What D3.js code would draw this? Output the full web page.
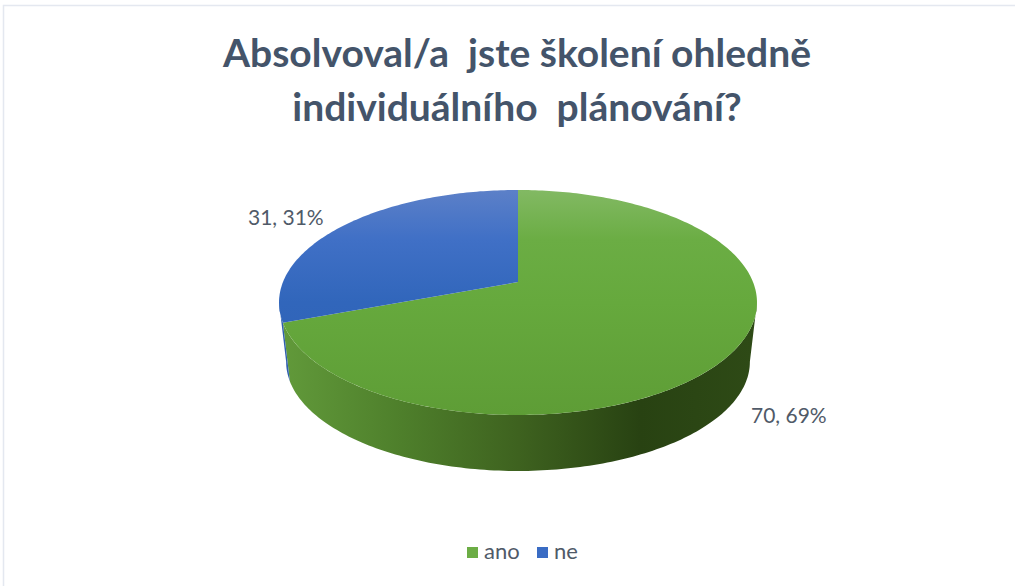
<!DOCTYPE html>
<html lang="cs">
<head>
<meta charset="utf-8">
<title>Školení</title>
<script src="https://cdn.jsdelivr.net/npm/d3@7"></script>
<style>
  html, body { margin: 0; padding: 0; background: #fff; }
  svg { display: block; }
  text { font-family: Lato, "Open Sans", sans-serif; white-space: pre; }
</style>
</head>
<body>
<svg id="chart" width="1015" height="586"></svg>
<script>
// Survey answers
const categories = ["ano", "ne"];
const counts = [70, 31];
const percents = [69, 31];
const titleLines = ["Absolvoval/a  jste školení ohledně", "individuálního  plánování?"];

const topFill = {
  ano: [[0, "#82b963"], [0.22, "#6bad44"], [0.5, "#66a93d"], [1, "#5e9d36"]],
  ne:  [[0, "#5c80c8"], [0.22, "#4070c6"], [0.5, "#3166bb"], [1, "#2f60b3"]]
};
const wallFill = {
  ano: [[0, "#61993a"], [0.25, "#4e7f2b"], [0.5, "#3e621f"], [0.76, "#284212"], [1, "#2e4a16"]],
  ne:  [[0, "#2f5fae"], [1, "#2f5fae"]]
};
const swatchFill = { ano: "#6cad45", ne: "#3a6cc4" };

const svg = d3.select("#chart");
const W = 1015;

// Frame around the chart area
svg.append("path")
  .attr("d", `M3.5,586V5.5H${W}`)
  .attr("fill", "none").attr("stroke", "#e4e8f0").attr("stroke-width", 1.5);

// Title
svg.append("g").selectAll("text").data(titleLines).join("text")
  .attr("x", 517).attr("y", (d, i) => 67 + i * 54)
  .attr("text-anchor", "middle")
  .attr("font-size", 39).attr("font-weight", 700)
  .attr("fill", "#44546a")
  .text(d => d);

// Tilted pie: the disc is projected with a small perspective factor
const tilt = 0.182;
const cx = 518;
const topDisc = { y: 282, a: 235, b: 108.8 };
const baseDisc = { y: 342, a: 228, b: 105.5 };

const project = (angle, disc) => {
  const across = Math.sin(angle), toward = -Math.cos(angle);
  const s = 1 / (1 - tilt * toward);
  return [cx + disc.a * across * s, disc.y + disc.b * toward * s];
};

const pie = d3.pie().value(d => d.count).sort(null);
const slices = pie(categories.map((name, i) => ({ name, count: counts[i], pct: percents[i] })));

const rimStep = Math.PI / 180;
const rim = (a0, a1, disc) => {
  const n = Math.max(2, Math.ceil(Math.abs(a1 - a0) / rimStep));
  return d3.range(n + 1).map(i => project(a0 + (a1 - a0) * i / n, disc));
};
const line = d3.line();

// Gradients
const defs = svg.append("defs");
const addGradient = (id, stops, x1, y1, x2, y2) => {
  const g = defs.append("linearGradient").attr("id", id)
    .attr("gradientUnits", "userSpaceOnUse")
    .attr("x1", x1).attr("y1", y1).attr("x2", x2).attr("y2", y2);
  stops.forEach(([o, c]) => g.append("stop").attr("offset", o).attr("stop-color", c));
};
categories.forEach(name => {
  addGradient(`top-${name}`, topFill[name], 0, 190, 0, 415);
  addGradient(`wall-${name}`, wallFill[name], 285, 0, 752, 0);
});

// The wall shows only between the two widest points of the disc
const wallFrom = Math.acos(-tilt);
const wallTo = 2 * Math.PI - wallFrom;

const walls = svg.append("g");
slices.forEach(s => {
  const a0 = Math.max(s.startAngle, wallFrom);
  const a1 = Math.min(s.endAngle, wallTo);
  if (a1 <= a0) return;
  const outline = rim(a0, a1, topDisc).concat(rim(a1, a0, baseDisc));
  walls.append("path")
    .attr("d", line(outline) + "Z")
    .attr("fill", `url(#wall-${s.data.name})`);
});

const tops = svg.append("g");
slices.forEach(s => {
  const outline = [project(0, { ...topDisc, a: 0, b: 0 })].concat(rim(s.startAngle, s.endAngle, topDisc));
  tops.append("path")
    .attr("d", line(outline) + "Z")
    .attr("fill", `url(#top-${s.data.name})`);
});

// Data labels
const labelAt = { ano: [751, 423], ne: [248, 225] };
svg.append("g").selectAll("text").data(slices).join("text")
  .attr("x", d => labelAt[d.data.name][0])
  .attr("y", d => labelAt[d.data.name][1])
  .attr("font-size", 21).attr("fill", "#505a68")
  .text(d => `${d.data.count}, ${d.data.pct}%`);

// Legend
const legend = svg.append("g");
const legendX = { ano: 467, ne: 537 };
categories.forEach(name => {
  legend.append("rect")
    .attr("x", legendX[name]).attr("y", 547)
    .attr("width", 11).attr("height", 11)
    .attr("fill", swatchFill[name]);
  legend.append("text")
    .attr("x", legendX[name] + 17).attr("y", 559)
    .attr("font-size", 22).attr("fill", "#505a68")
    .text(name);
});
</script>
</body>
</html>
